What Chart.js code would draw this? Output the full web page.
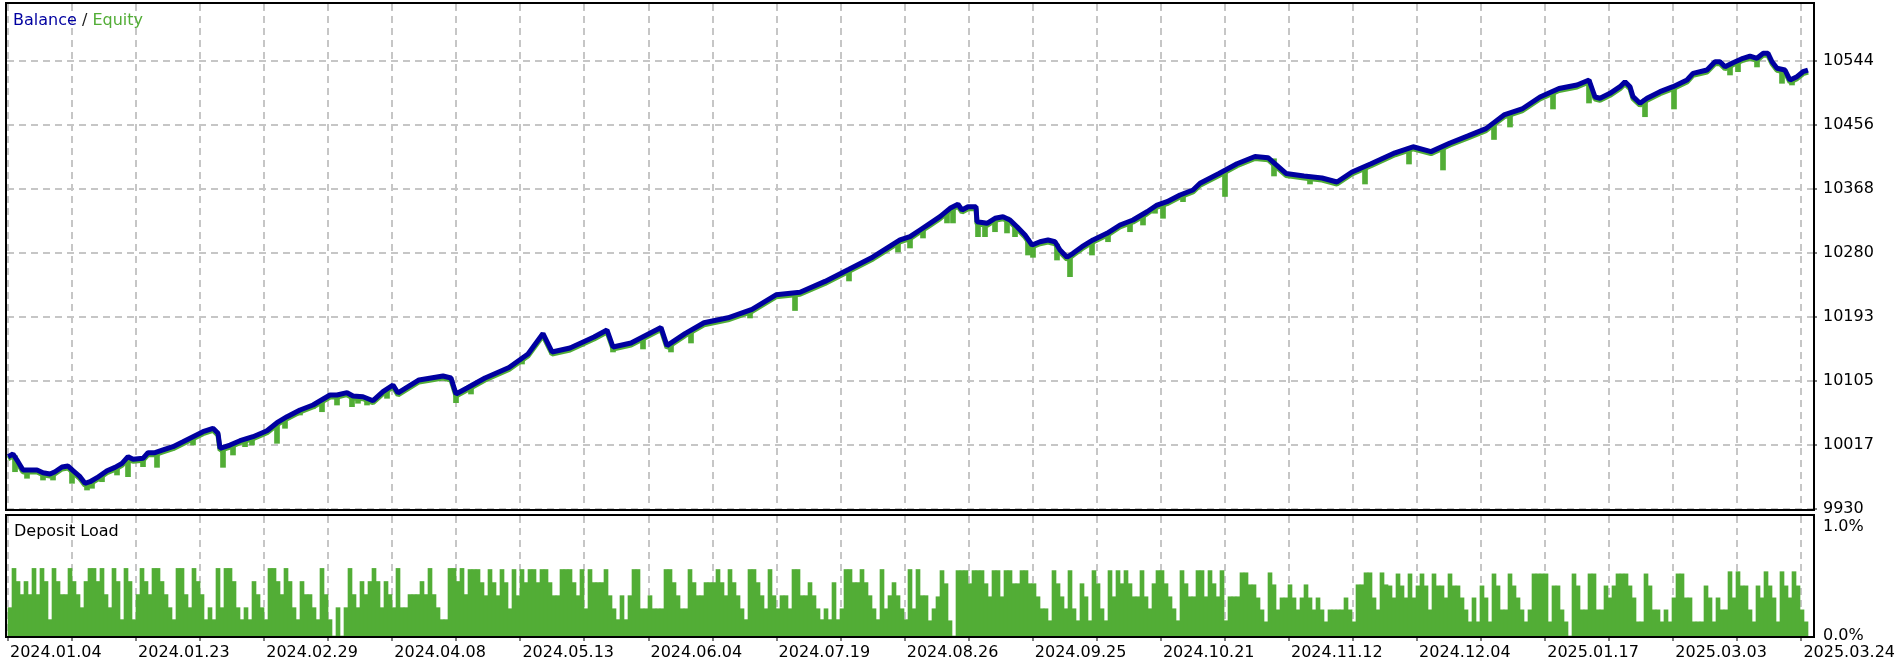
<!DOCTYPE html>
<html>
<head>
<meta charset="utf-8">
<script src="https://cdn.jsdelivr.net/npm/chart.js@4.4.1/dist/chart.umd.min.js"></script>
<style>
  html, body { margin: 0; padding: 0; background: #fff; }
  body { width: 1902px; height: 664px; position: relative; overflow: hidden; }
  canvas { position: absolute; left: 0; }
  #balanceChart { top: 0; }
  #loadChart { top: 500px; }
</style>
</head>
<body>
<canvas id="balanceChart" width="1902" height="530"></canvas>
<canvas id="loadChart" width="1902" height="164"></canvas>
<script>
// ---- data (time step = one deposit-load bar) ----
const dateLabels = ['2024.01.04', '2024.01.23', '2024.02.29', '2024.04.08', '2024.05.13', '2024.06.04', '2024.07.19',
  '2024.08.26', '2024.09.25', '2024.10.21', '2024.11.12', '2024.12.04', '2025.01.17', '2025.03.03', '2025.03.24'];
const balanceTickLabels = ['9930', '10017', '10105', '10193', '10280', '10368', '10456', '10544'];
const loadTickLabels = ['0.0%', '1.0%'];

const balanceStep = [0, 1.25, 2.5, 3.75, 7.25, 8.75, 10.5, 11.75, 13.5, 15,
  16.25, 18, 19.25, 20.5, 22.25, 24.75, 26.75, 28.5, 30, 31.25,
  33.75, 35, 36.75, 38.75, 41.25, 43.75, 46.25, 48.75, 51.25, 52.5,
  53, 55.5, 58, 61.25, 64.75, 67.25, 69.75, 73, 76.25, 80.5,
  82.25, 84.75, 86.25, 88.75, 91.25, 93.75, 96.25, 97.5, 102.75, 108.75,
  110.75, 112, 114.75, 119.25, 125.25, 130, 133.75, 136, 140.5, 146.5,
  149.75, 151.25, 155.75, 163.25, 164.75, 169.25, 174, 180, 186, 192,
  198, 204.25, 210.25, 216.25, 223, 225.5, 228, 230.5, 233, 235.5,
  237.5, 238.5, 240, 242, 242.25, 244.75, 246.75, 248.75, 250.5, 252.25,
  254.25, 256, 258, 260, 261.75, 263, 264.75, 266.25, 268.5, 271.25,
  274.75, 278, 281.25, 284.75, 287.25, 289.75, 293, 296.25, 298, 302.75,
  307.25, 311.75, 315, 319.5, 324, 328.5, 332.25, 336, 340.75, 346.75,
  351.25, 355.75, 360.5, 365, 369.5, 374, 378.5, 383, 387.75, 392.25,
  395.25, 396.75, 398, 400.5, 403, 404.25, 405.5, 406.25, 408, 409.75,
  413, 416.25, 419.75, 421.25, 424.75, 426.75, 428, 429.25, 431.25, 433.75,
  435.5, 437.25, 438.75, 440, 441, 442.25, 444.25, 445.5, 447.25, 448.75,
  450];
const balanceValue = [10001.7, 10005.4, 9994.8, 9983.4, 9983.4, 9979.7, 9978.0, 9981.1, 9987.6, 9988.9,
  9982.5, 9974.3, 9965.2, 9967.4, 9972.9, 9982.5, 9987.1, 9992.6, 10001.7, 9998.1,
  9999.5, 10007.2, 10007.2, 10010.9, 10015.4, 10022.2, 10029.1, 10035.9, 10040.6, 10033.7,
  10013.2, 10017.7, 10023.6, 10029.1, 10037.3, 10048.3, 10056.5, 10065.7, 10072.5, 10086.2,
  10086.2, 10089.4, 10084.9, 10083.9, 10078.4, 10090.8, 10099.9, 10089.0, 10106.8, 10112.3,
  10109.5, 10087.6, 10095.8, 10109.5, 10123.9, 10142.4, 10170.4, 10145.2, 10150.7, 10165.7,
  10175.3, 10152.0, 10157.5, 10178.7, 10153.8, 10170.4, 10185.3, 10192.0, 10203.7, 10223.6,
  10227.0, 10241.9, 10258.5, 10275.4, 10298.7, 10303.2, 10312.4, 10321.5, 10330.6, 10342.1,
  10347.6, 10339.8, 10344.3, 10344.3, 10323.7, 10321.5, 10328.4, 10330.6, 10326.1, 10316.9,
  10305.5, 10291.8, 10296.3, 10298.7, 10296.3, 10285.0, 10275.0, 10280.4, 10289.5, 10298.7,
  10307.8, 10319.2, 10326.1, 10337.4, 10346.6, 10351.2, 10360.3, 10367.2, 10376.4, 10389.8,
  10403.1, 10413.1, 10411.5, 10389.8, 10386.4, 10383.6, 10378.2, 10391.9, 10403.1, 10418.2,
  10426.4, 10419.8, 10431.6, 10441.3, 10451.3, 10470.0, 10478.2, 10494.6, 10506.3, 10511.1,
  10517.9, 10494.6, 10492.9, 10499.7, 10508.8, 10515.6, 10508.8, 10495.1, 10486.0, 10492.9,
  10501.9, 10508.8, 10517.9, 10527.1, 10531.6, 10543.0, 10543.0, 10536.2, 10541.6, 10547.7,
  10550.8, 10547.7, 10554.5, 10554.5, 10543.0, 10534.0, 10531.6, 10517.9, 10522.5, 10529.3,
  10531.6];

// equity drawdowns below the balance line: step, lowest equity, balance at that step
const dipStep = [1.75, 4.75, 8.75, 11.25, 16, 19.75, 21, 23.5, 27.25, 30,
  33.75, 37.25, 46.25, 53.75, 56.25, 59.25, 61, 67.25, 69.25, 73,
  76.25, 78.5, 82.25, 86, 87.5, 89.75, 94.75, 112, 115.75, 128.5,
  136, 151.25, 158.75, 165.75, 170.75, 185.5, 196.75, 210.25, 222.5, 225.5,
  228.75, 234.75, 236.25, 242.5, 244.25, 246.75, 249.75, 251.75, 255, 256.25,
  262.25, 265.5, 271, 275, 280.5, 283.75, 286.75, 288.75, 293.75, 304.25,
  316.5, 325.5, 339.25, 350.25, 358.75, 371.5, 375.5, 386.25, 395.25, 398.5,
  409.25, 416.5, 430.5, 432.5, 437.25, 443.5, 446];
const dipLow = [9981.1, 9972.1, 9969.7, 9969.7, 9965.2, 9956.0, 9958.4, 9967.4, 9976.6, 9974.3,
  9988.0, 9987.1, 10017.7, 9987.1, 10004.0, 10015.4, 10017.7, 10020.0, 10040.6, 10058.8,
  10068.0, 10063.3, 10072.5, 10070.2, 10074.9, 10072.5, 10081.7, 10075.7, 10087.6, 10128.7,
  10142.4, 10145.2, 10149.3, 10145.2, 10157.5, 10191.8, 10202.0, 10242.5, 10282.2, 10287.7,
  10301.4, 10322.0, 10322.0, 10303.2, 10303.2, 10310.0, 10308.3, 10303.2, 10278.1, 10274.9,
  10271.2, 10248.4, 10278.1, 10296.3, 10310.0, 10319.2, 10335.3, 10328.4, 10351.2, 10358.3,
  10386.4, 10375.4, 10375.4, 10402.8, 10394.6, 10436.4, 10453.5, 10478.2, 10486.4, 10490.5,
  10467.6, 10478.2, 10524.8, 10529.3, 10535.8, 10513.4, 10511.1];
const dipTop = [10003, 9984, 9980, 9981, 9984, 9966, 9968, 9977, 9988, 10001,
  9999, 10007, 10029, 10014, 10019, 10025, 10028, 10048, 10055, 10065,
  10072, 10080, 10086, 10085, 10084, 10082, 10093, 10088, 10097, 10137,
  10146, 10152, 10162, 10156, 10172, 10202, 10226, 10258, 10297, 10303,
  10314, 10339, 10345, 10324, 10322, 10328, 10330, 10318, 10300, 10292,
  10293, 10278, 10298, 10308, 10324, 10335, 10345, 10350, 10362, 10393,
  10410, 10386, 10400, 10425, 10424, 10456, 10472, 10503, 10517, 10494,
  10492, 10508, 10540, 10544, 10547, 10532, 10520];

// deposit load, % per time step
const loadA = [.26, .62, .50, .38, .50, .38, .62, .38, .62, .50,
  .15, .62, .50, .38, .38, .62, .50, .38, .26, .50,
  .62, .62, .50, .62, .38, .26, .62, .50, .15, .62,
  .50, .15, .38, .62, .50, .38, .62, .62, .50, .38,
  .26, .15, .62, .62, .38, .26, .62, .50, .38, .15,
  .26, .15, .62, .26, .62, .62, .50, .26, .15, .26,
  .15, .50, .38, .26, .15, .62, .62, .50, .38, .62,
  .50, .26, .15, .50, .38, .38, .26, .15, .62, .38,
  .15, 0, .26, 0, .26, .62, .38, .26, .50, .38,
  .50, .62, .50, .26, .50, .38, .26, .62, .26, .26,
  .38, .38, .38, .50, .38, .62, .38, .26, .15, .15,
  .62, .62, .50, .62, .38];
const loadB = [.61, .61, .61, .49, .37, .61, .49, .37, .61, .49,
  .25, .61, .37, .61, .49, .61, .61, .49, .61, .61,
  .49, .37, .37, .61, .61, .61, .49, .37, .61, .25,
  .61, .49, .49, .49, .61, .37, .25, .15, .37, .15,
  .37, .61, .61, .25, .25, .37, .25, .25, .25, .61,
  .61, .49, .37, .25, .25, .61, .49, .37, .37, .49,
  .49, .49, .61, .49, .37, .61, .49, .37, .25, .15,
  .61, .61, .49, .37, .25, .61, .37, .25, .37, .37,
  .25, .61, .61, .37, .37, .49, .37, .25, .15, .25,
  .15, .49, .15, .25, .61, .61, .49, .49, .61, .49,
  .37, .25, .15, .61, .25, .37, .49, .37, .25, .15,
  .61, .25, .61, .37, .37];
const loadC = [.14, .25, .36, .60, .48, .14, 0, .60, .60, .60,
  .48, .60, .60, .60, .48, .36, .60, .60, .36, .60,
  .60, .48, .48, .60, .60, .48, .48, .36, .25, .25,
  .14, .60, .48, .36, .25, .60, .25, .14, .48, .36,
  .14, .60, .48, .25, .14, .60, .36, .60, .48, .60,
  .48, .36, .36, .60, .36, .25, .48, .60, .60, .48,
  .36, .25, .14, .60, .48, .36, .36, .60, .60, .36,
  .60, .48, .36, .60, .14, .36, .36, .36, .58, .58,
  .47, .47, .35, .24, .13, .58, .47, .24, .35, .35,
  .47, .35, .24, .35, .47, .35, .24, .35, .24, .13,
  .24, .24, .24, .24, .35, .24, .13, .47, .47, .58,
  .58, .35, .24, .58, .47];
const loadD = [.46, .35, .57, .46, .35, .57, .35, .46, .57, .46,
  .24, .57, .46, .46, .35, .57, .46, .46, .35, .24,
  .13, .35, .13, .46, .35, .13, .57, .46, .24, .24,
  .57, .46, .35, .24, .13, .24, .57, .57, .57, .57,
  .13, .46, .46, .24, .13, 0, .57, .46, .24, .24,
  .57, .57, .24, .24, .46, .35, .46, .57, .57, .57,
  .46, .35, .13, .13, .57, .46, .24, .24, .13, .24,
  .13, .35, .57, .57, .35, .35, .13, .13, .13, .46,
  .35, .13, .35, .24, .24, .59, .35, .59, .46, .46,
  .24, .13, .46, .35, .59, .46, .35, .13, .59, .46,
  .35, .59, .46, .24, .13];
const depositLoad = [...loadA, ...loadB, ...loadC, ...loadD];

// ---- styles ----
const FONT = { family: '"DejaVu Sans", sans-serif', size: 16 };
const BLUE = '#0000a0';
const GREEN = '#52ad36';
const GRID = '#c6c6c6';
const DASH = [7, 5];

const stepMin = -0.25, stepMax = 451.25;
const gridStep = 16.0125;         // one dashed vertical line every 64px
const balanceTick = 87.71;        // 9930 .. 10544 in 7 steps

function timeTicks(scale) {
    scale.ticks = [];
    for (let k = 0; k <= 28; k++) scale.ticks.push({ value: k * gridStep });
}

// black frame round each panel
const framePlugin = {
    id: 'frame',
    afterDraw(chart) {
        const a = chart.chartArea, ctx = chart.ctx;
        ctx.save();
        ctx.strokeStyle = '#000';
        ctx.lineWidth = 2;
        ctx.strokeRect(a.left - 1, a.top - 1, a.right - a.left + 2, a.bottom - a.top + 2);
        ctx.restore();
    }
};

// equity line sits a couple of pixels under the balance line
const shiftPlugin = {
    id: 'shift',
    beforeDatasetDraw(chart, args) {
        const ds = chart.data.datasets[args.index];
        if (ds.shiftY) { chart.ctx.save(); chart.ctx.translate(0, ds.shiftY); }
    },
    afterDatasetDraw(chart, args) {
        const ds = chart.data.datasets[args.index];
        if (ds.shiftY) chart.ctx.restore();
    }
};

const titlePlugin = {
    id: 'panelTitle',
    afterDraw(chart, args, opts) {
        const ctx = chart.ctx;
        ctx.save();
        ctx.font = FONT.size + 'px ' + FONT.family;
        ctx.textBaseline = 'alphabetic';
        let x = opts.x;
        opts.parts.forEach(p => {
            ctx.fillStyle = p.color;
            ctx.fillText(p.text, x, opts.y);
            x += ctx.measureText(p.text).width;
        });
        ctx.restore();
    }
};

const balancePoints = balanceStep.map((s, i) => ({ x: s, y: balanceValue[i] }));

new Chart(document.getElementById('balanceChart'), {
    type: 'line',
    data: {
        datasets: [
            {
                label: 'Balance',
                data: balancePoints,
                borderColor: BLUE,
                borderWidth: 5,
                borderJoinStyle: 'bevel',
                pointRadius: 0,
                tension: 0,
                order: 0
            },
            {
                label: 'Equity',
                data: balancePoints,
                borderColor: GREEN,
                borderWidth: 5,
                borderJoinStyle: 'bevel',
                pointRadius: 0,
                tension: 0,
                shiftY: 2,
                order: 1
            },
            {
                type: 'bar',
                label: 'Equity dips',
                data: dipStep.map((s, i) => ({ x: s, y: [dipLow[i], dipTop[i]] })),
                backgroundColor: GREEN,
                borderWidth: 0,
                barThickness: 5,
                order: 2
            }
        ]
    },
    options: {
        responsive: false,
        animation: false,
        events: [],
        layout: { padding: { left: 7, top: 4, right: 0, bottom: 21 } },
        plugins: {
            legend: { display: false },
            tooltip: { enabled: false },
            panelTitle: {
                x: 13, y: 25,
                parts: [
                    { text: 'Balance', color: BLUE },
                    { text: ' / ', color: '#1a1a1a' },
                    { text: 'Equity', color: GREEN }
                ]
            }
        },
        scales: {
            x: {
                type: 'linear',
                min: stepMin,
                max: stepMax,
                offset: false,
                afterBuildTicks: timeTicks,
                grid: { color: GRID, lineWidth: 2, drawTicks: false, offset: false },
                border: { display: false, dash: DASH },
                ticks: { display: false },
                afterFit: s => { s.height = 0; s.paddingLeft = 0; s.paddingRight = 0; }
            },
            y: {
                position: 'right',
                min: 9930,
                max: 9930 + 505 / 64 * balanceTick,
                afterBuildTicks: s => {
                    s.ticks = balanceTickLabels.map((t, k) => ({ value: 9930 + k * balanceTick }));
                },
                grid: {
                    color: GRID, lineWidth: 2,
                    drawTicks: true, tickLength: 4, tickColor: '#000', tickWidth: 1, tickBorderDash: []
                },
                border: { display: false, dash: DASH },
                ticks: {
                    color: '#000',
                    font: FONT,
                    padding: 6,
                    callback: (v, i) => balanceTickLabels[i]
                },
                afterFit: s => { s.width = 89; s.paddingTop = 0; s.paddingBottom = 0; }
            }
        }
    },
    plugins: [shiftPlugin, framePlugin, titlePlugin]
});

new Chart(document.getElementById('loadChart'), {
    type: 'bar',
    data: {
        datasets: [{
            label: 'Deposit Load',
            data: depositLoad.map((v, i) => ({ x: i + 0.5, y: v })),
            backgroundColor: GREEN,
            borderWidth: 0,
            barPercentage: 1,
            categoryPercentage: 1
        }]
    },
    options: {
        responsive: false,
        animation: false,
        events: [],
        layout: { padding: { left: 7, top: 16, right: 0, bottom: 0 } },
        plugins: {
            legend: { display: false },
            tooltip: { enabled: false },
            panelTitle: { x: 14, y: 36, parts: [{ text: 'Deposit Load', color: '#000' }] }
        },
        scales: {
            x: {
                type: 'linear',
                min: stepMin,
                max: stepMax,
                offset: false,
                afterBuildTicks: timeTicks,
                grid: {
                    color: GRID, lineWidth: 2, offset: false,
                    drawTicks: true, tickLength: 5, tickColor: '#000', tickWidth: 1, tickBorderDash: []
                },
                border: { display: false, dash: DASH },
                ticks: {
                    autoSkip: false,
                    maxRotation: 0,
                    align: 'start',
                    labelOffset: 2,
                    padding: 2,
                    color: '#000',
                    font: FONT,
                    callback: (v, i) => (i % 2 === 0 ? dateLabels[i / 2] : '')
                },
                afterFit: s => { s.height = 28; s.paddingLeft = 0; s.paddingRight = 0; }
            },
            y: {
                position: 'right',
                min: 0,
                max: 120 / 109,
                afterBuildTicks: s => { s.ticks = [{ value: 0 }, { value: 1 }]; },
                grid: { display: false, drawTicks: true, tickLength: 4 },
                border: { display: false },
                ticks: {
                    color: '#000',
                    font: FONT,
                    padding: 6,
                    callback: (v, i) => loadTickLabels[i]
                },
                afterFit: s => { s.width = 89; s.paddingTop = 0; s.paddingBottom = 0; }
            }
        }
    },
    plugins: [framePlugin, titlePlugin]
});
</script>
</body>
</html>
